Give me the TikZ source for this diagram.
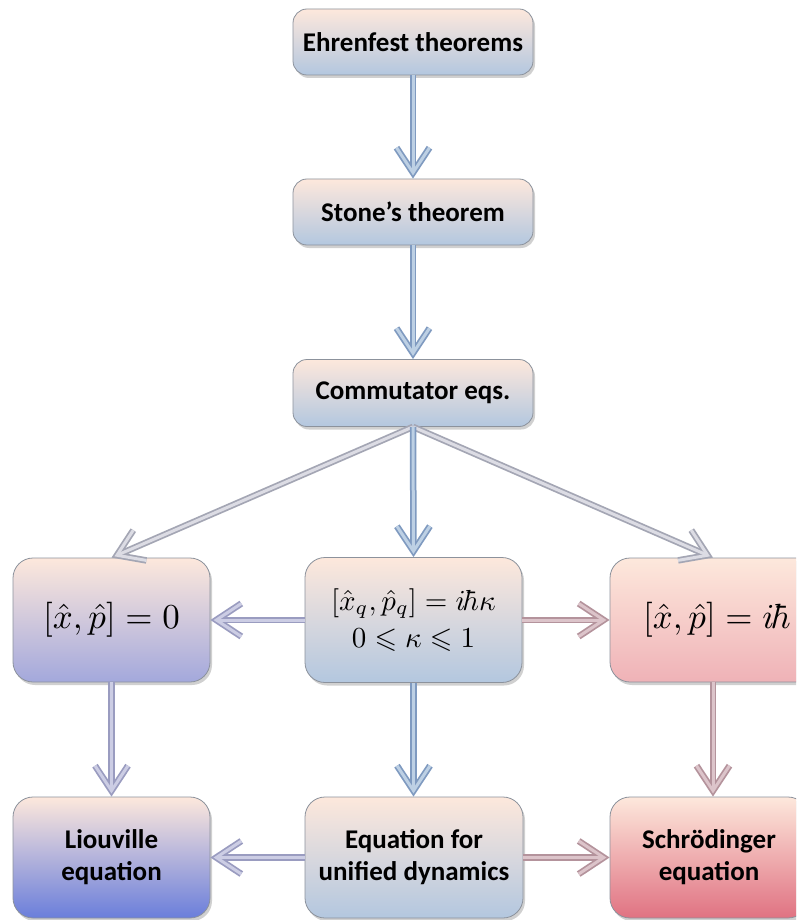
\documentclass[tikz,border=0pt]{standalone}
\usepackage{amssymb}
\usepackage{graphicx}
\usepackage{fontspec}
\setmainfont{Carlito}
\usetikzlibrary{arrows.meta,shadows}
\definecolor{peach}{HTML}{FDE8DC}
\definecolor{lblue}{HTML}{B3C7DF}
\definecolor{lav}{HTML}{A3A8DC}
\definecolor{lpink}{HTML}{EFB2B7}
\definecolor{dblue}{HTML}{6A7EDB}
\definecolor{dred}{HTML}{E07282}
\definecolor{boxline}{HTML}{8C929C}
\definecolor{tbo}{HTML}{7F9AC0}\definecolor{tbi}{HTML}{BDD0E4}
\definecolor{tgo}{HTML}{A4A6B4}\definecolor{tgi}{HTML}{DCDCE4}
\definecolor{tlo}{HTML}{9A9CC0}\definecolor{tli}{HTML}{CCCDE4}
\definecolor{tpo}{HTML}{B4939C}\definecolor{tpi}{HTML}{DCC4CA}
\newcommand{\bigmath}[2]{{\fontsize{10}{12}\selectfont\scalebox{#1}{$#2$}}}
\tikzset{
  box/.style={draw=boxline, line width=0.8pt, rounded corners=14pt,
    align=center, inner sep=0pt,
    font=\fontsize{27}{32}\selectfont\bfseries,
    drop shadow={shadow xshift=2pt, shadow yshift=-3pt, opacity=0.3, fill=black!60},
    top color=peach, bottom color=lblue},
  bigbox/.style={box, rounded corners=20pt},
  tube/.style n args={2}{line width=3pt, draw=#2, shorten >=3.2pt,
    -{Straight Barb[length=25pt, width=33pt]},
    preaction={draw=#1, line width=6.5pt, shorten >=0pt, -{Straight Barb[length=25pt, width=33pt]}}},
}
\begin{document}
\begin{tikzpicture}[x=1pt,y=-1pt]
\clip (0,0) rectangle (796,920);
\fill[white] (0,0) rectangle (796,920);
\node[box, minimum width=240pt, minimum height=66pt] (eh) at (413,42) {Ehrenfest theorems};
\node[box, minimum width=240pt, minimum height=66pt] (st) at (413,212) {Stone’s theorem};
\node[box, minimum width=240pt, minimum height=67pt] (co) at (413,393) {Commutator eqs.};
\node[bigbox, minimum width=197pt, minimum height=124pt, bottom color=lav] (ml) at (111.5,620)
  {\bigmath{3.5}{[\hat{x},\hat{p}]=0}};
\node[bigbox, minimum width=217pt, minimum height=125pt] (mm) at (413.5,620)
  {\bigmath{2.9}{[\hat{x}_q,\hat{p}_q]=i\hbar\kappa}\\[5pt]\bigmath{2.9}{0\leqslant\kappa\leqslant1}};
\node[bigbox, minimum width=214pt, minimum height=124pt, bottom color=lpink] (mr) at (717,620)
  {\bigmath{3.5}{[\hat{x},\hat{p}]=i\hbar}};
\node[bigbox, minimum width=197pt, minimum height=121pt, bottom color=dblue] (bl) at (111.5,857.5)
  {Liouville\\equation};
\node[bigbox, minimum width=218pt, minimum height=121pt] (bm) at (414,857.5)
  {Equation for\\unified dynamics};
\node[bigbox, minimum width=198pt, minimum height=121pt, bottom color=dred] (br) at (709,857.5)
  {Schrödinger\\equation};
% arrows
\draw[tube={tbo}{tbi}] (eh.south) -- (st.north);
\draw[tube={tbo}{tbi}] (st.south) -- (co.north);
\draw[tube={tgo}{tgi}] (co.south) -- (ml.north);
\draw[tube={tgo}{tgi}] (co.south) -- ([xshift=-4pt]mr.north);
\draw[tube={tbo}{tbi}] (co.south) -- (mm.north);
\draw[tube={tlo}{tli}] (mm.west) -- (ml.east);
\draw[tube={tpo}{tpi}] (mm.east) -- (mr.west);
\draw[tube={tlo}{tli}] (ml.south) -- (bl.north);
\draw[tube={tbo}{tbi}] (mm.south) -- (mm.south |- bm.north);
\draw[tube={tpo}{tpi}] ([xshift=-4pt]mr.south) -- ([xshift=-4pt]mr.south |- br.north);
\draw[tube={tlo}{tli}] (bm.west) -- (bl.east);
\draw[tube={tpo}{tpi}] (bm.east) -- (br.west);
\end{tikzpicture}
\end{document}
